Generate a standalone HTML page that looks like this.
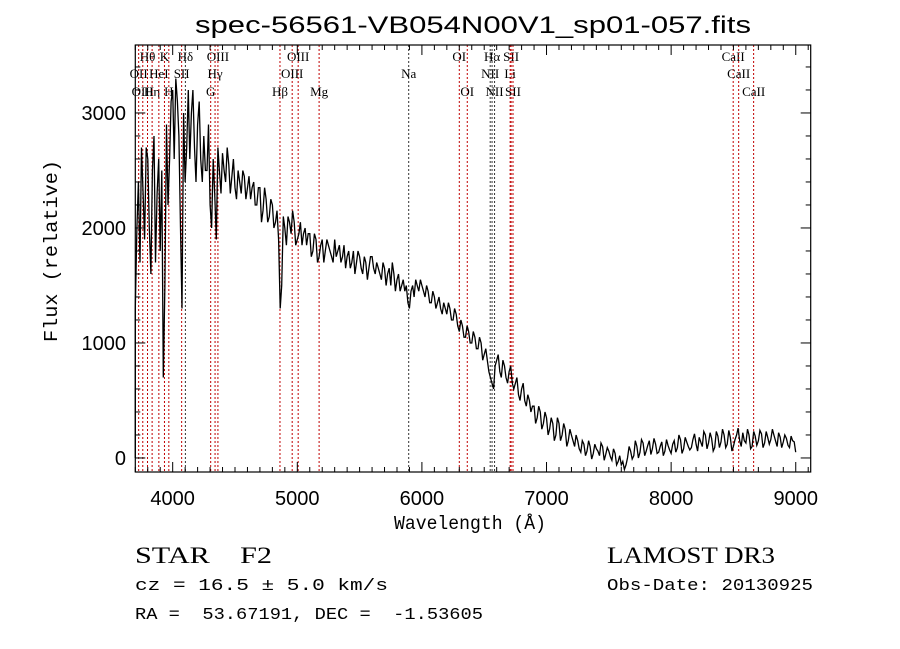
<!DOCTYPE html>
<html><head><meta charset="utf-8"><style>
body{margin:0;background:#fff;}
svg{display:block;}
text{white-space:pre;}
</style></head><body>
<svg id="chart" width="900" height="649" viewBox="0 0 900 649" xmlns="http://www.w3.org/2000/svg" xml:space="preserve">
<text x="473" y="33" text-anchor="middle" font-family="Liberation Sans, sans-serif" font-size="24" textLength="556" lengthAdjust="spacingAndGlyphs">spec-56561-VB054N00V1_sp01-057.fits</text>
<g id="lines"></g>
<g id="spec"></g>
<rect x="135.3" y="45" width="675.4" height="427" fill="none" stroke="#000" stroke-width="1.2"/>
<g id="axes"></g>
<text x="470" y="529" text-anchor="middle" font-family="Liberation Mono, monospace" font-size="19" textLength="152" lengthAdjust="spacingAndGlyphs">Wavelength (Å)</text>
<text transform="translate(57,251) rotate(-90)" text-anchor="middle" font-family="Liberation Mono, monospace" font-size="19" textLength="182" lengthAdjust="spacingAndGlyphs">Flux (relative)</text>
<text x="135" y="563" font-family="Liberation Serif, serif" font-size="23" textLength="137" lengthAdjust="spacingAndGlyphs">STAR    F2</text>
<text x="607" y="563" font-family="Liberation Serif, serif" font-size="23" textLength="168" lengthAdjust="spacingAndGlyphs">LAMOST DR3</text>
<text x="135" y="590" font-family="Liberation Mono, monospace" font-size="17" textLength="253" lengthAdjust="spacingAndGlyphs">cz = 16.5 ± 5.0 km/s</text>
<text x="607" y="590" font-family="Liberation Mono, monospace" font-size="17" textLength="206" lengthAdjust="spacingAndGlyphs">Obs-Date: 20130925</text>
<text x="135" y="619" font-family="Liberation Mono, monospace" font-size="17" textLength="348" lengthAdjust="spacingAndGlyphs">RA =  53.67191, DEC =  -1.53605</text>
</svg>
<script>
const flux = [
1300,2400,2700,1900,2600,1600,2800,2300,
1800,700,2900,2600,3200,3300,2800,1300,
2400,3200,3000,2700,2900,2600,2800,2500,
2200,2600,1900,2500,2650,2400,2550,2450,
2350,2500,2300,2450,2350,2250,2400,2200,
2350,2150,2250,2100,2200,2050,1900,1500,
2000,2100,1950,2050,
1900,2050,1950,1850,1950,1800,1900,1750,
1900,1800,1850,1750,1900,1800,1700,1850,
1750,1650,1800,1700,1750,1600,1700,1650,
1750,1600,1650,1550,1650,1600,1500,1600,
1550,1450,1550,1500,1300,1500,1550,1450,
1500,1400,1450,1350,1400,1350,1300,1350,
1250,1300,1200,1250,1100,1150,1050,1100,
1000,1050,950,1000,900,850,700,600,
850,750,850,700,750,650,650,550,
600,500,550,400,450,350,400,300,
350,250,300,200,300,200,250,150,
200,100,150,50,120,60,100,40,
80,20,100,30,60,-20,40,-30,
-60,-100,0,60,20,100,50,130,
60,150,80,120,50,140,60,110,
40,150,90,160,80,140,70,160,
120,180,100,200,130,170,90,190,
140,200,120,180,100,200,150,220,
130,200,100,190,150,210,130,180,
160,200,100,180,140,170,90,150,50];
const fluxMid = [
2000,1700,2300,2700,2000,2500,1700,2600,
2500,1500,2200,3100,2600,3100,2000,3000,
2700,2600,3200,2400,3100,2400,2500,2900,
2000,2300,2700,2300,2500,2700,2300,2600,
2250,2400,2500,2250,2450,2350,2200,2350,
2050,2350,2050,2250,2000,2150,1300,2100,
1850,2050,2150,1850,
1950,1850,2000,1950,1750,1950,1700,1850,
1700,1900,1800,1700,1750,1850,1750,1650,
1800,1700,1600,1800,1650,1750,1550,1750,
1650,1700,1600,1700,1500,1650,1700,1450,
1600,1500,1450,1350,1450,1400,1500,1550,
1450,1500,1350,1450,1300,1400,1250,1300,
1350,1200,1300,1150,1200,1050,1150,1000,
1100,950,1050,850,950,750,650,800,
900,700,800,650,800,600,700,500,
650,450,500,450,300,450,250,400,
200,350,150,350,150,300,100,250,
150,200,80,150,20,150,-10,120,
60,130,-20,90,10,80,-60,20,
-30,-60,100,-10,150,0,160,20,
110,30,170,40,100,20,160,70,
120,50,200,40,180,100,90,210,
60,140,230,80,220,60,230,90,
250,90,240,60,160,260,100,150,
250,80,230,110,240,90,230,120,
250,150,220,90,200,110,190,140];
const lineNames = ["OII","Hθ","OIII","Hη","HeI","K","H","SII","Hδ","G","Hγ","OIII","Hβ","OIII","OIII","Mg","Na","OI","OI","NII","Hα","NII","Li","SII","SII","CaII","CaII","CaII"];
const lineWaves = [3727,3798,3760,3835,3889,3934,3969,4072,4102,4305,4340,4363,4861,4959,5007,5175,5894,6300,6364,6548,6563,6583,6708,6716,6731,8498,8542,8662];
const lineRows = [1,0,2,2,1,0,2,1,0,2,1,0,2,1,0,2,1,0,2,1,0,2,1,0,2,0,1,2];
const lineBlack = [0,0,0,0,0,0,0,0,1,0,0,0,0,0,0,0,1,0,0,1,1,1,0,0,0,0,0,0];
const xTicks = [4000,5000,6000,7000,8000,9000];
const yTicks = [0,1000,2000,3000];
const W_START = 3700, W_STEP = 25;

const NS="http://www.w3.org/2000/svg";
const X0=135.3,X1=810.7,Y0=45,Y1=472,WMIN=3700,WMAX=9120,FMIN=-122,FMAX=3591;
const xs=w=>X0+(w-WMIN)/(WMAX-WMIN)*(X1-X0);
const ys=f=>Y1-(f-FMIN)/(FMAX-FMIN)*(Y1-Y0);
function mk(tag,attrs,parent){const e=document.createElementNS(NS,tag);for(const k in attrs)e.setAttribute(k,attrs[k]);parent.appendChild(e);return e;}

const lg=document.getElementById('lines');
const rowY=[61,78,96];
lineWaves.forEach((w,i)=>{
  const x=xs(w);
  const l=mk('line',{x1:x,x2:x,y1:Y0,y2:Y1,stroke:lineBlack[i]?'#333':'#c00000','stroke-width':1,'stroke-dasharray':'2,2'},lg);
  
  
  const t=mk('text',{x:x,y:rowY[lineRows[i]],'text-anchor':'middle','font-family':'Liberation Serif, serif','font-size':13},lg);
  t.textContent=lineNames[i];
  
  
});

const sg=document.getElementById('spec');
const pts=[];
flux.forEach((f,i)=>{
  const w=W_START+i*W_STEP;
  pts.push([w,f]);
  if(i<fluxMid.length) pts.push([w+W_STEP/2,fluxMid[i]]);
});
let d='M'+xs(W_START).toFixed(1)+','+ys(0).toFixed(1);
pts.forEach(p=>{d+='L'+xs(p[0]).toFixed(1)+','+ys(p[1]).toFixed(1);});
const p=mk('path',{d:d,fill:'none',stroke:'#000','stroke-width':1.3},sg);



const ag=document.getElementById('axes');
for(let w=3700;w<=9100;w+=100){
  const x=xs(w),big=w%1000===0,len=big?10:5;
  mk('line',{x1:x,x2:x,y1:Y1,y2:Y1-len,stroke:'#000'},ag);
  mk('line',{x1:x,x2:x,y1:Y0,y2:Y0+len,stroke:'#000'},ag);
}
for(let f=0;f<=3400;f+=200){
  const y=ys(f),big=f%1000===0,len=big?10:5;
  mk('line',{x1:X0,x2:X0+len,y1:y,y2:y,stroke:'#000'},ag);
  mk('line',{x1:X1,x2:X1-len,y1:y,y2:y,stroke:'#000'},ag);
}
xTicks.forEach(w=>{
  const t=mk('text',{x:xs(w),y:505,'text-anchor':'middle','font-family':'Liberation Sans, sans-serif','font-size':20},ag);
  t.textContent=w;
  
  
});
yTicks.forEach(f=>{
  const t=mk('text',{x:126,y:ys(f)+7,'text-anchor':'end','font-family':'Liberation Sans, sans-serif','font-size':20},ag);
  t.textContent=f;
  
  
});
</script>
</body></html>
